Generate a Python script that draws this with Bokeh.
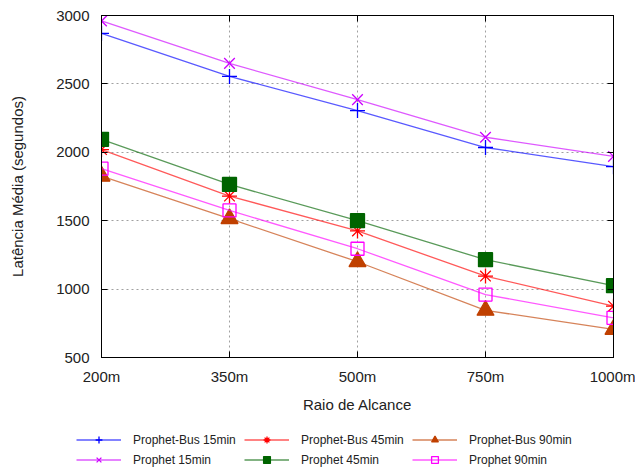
from bokeh.plotting import figure
from bokeh.layouts import column
from bokeh.models import (Range1d, FixedTicker, LinearAxis, Legend, LegendItem,
                          CustomJSTickFormatter)
from bokeh.embed import file_html
from bokeh.resources import INLINE

categories = ["200m", "350m", "500m", "750m", "1000m"]
y_ticks = [500, 1000, 1500, 2000, 2500, 3000]

bus_15 = [2870, 2555, 2305, 2035, 1895]
bus_45 = [2020, 1680, 1425, 1095, 875]
bus_90 = [1825, 1515, 1200, 845, 705]
prophet_15 = [2960, 2650, 2385, 2110, 1970]
prophet_45 = [2095, 1765, 1500, 1215, 1025]
prophet_90 = [1880, 1575, 1295, 960, 790]

series = [
    ("Prophet-Bus 15min", bus_15, "#0000ff", "cross", 15, True),
    ("Prophet-Bus 45min", bus_45, "#ff0000", "asterisk", 15, True),
    ("Prophet-Bus 90min", bus_90, "#c04000", "triangle", 17, True),
    ("Prophet 15min", prophet_15, "#cc00ff", "x", 15, True),
    ("Prophet 45min", prophet_45, "#006400", "square", 14, True),
    ("Prophet 90min", prophet_90, "#ff00ff", "square", 13, False),
]

x_idx = list(range(len(categories)))
FONT = "Liberation Sans"
TXT = "#222222"

p = figure(frame_width=512, frame_height=342,
           x_range=Range1d(0, len(categories) - 1), y_range=Range1d(500, 3000),
           output_backend="svg", toolbar_location=None,
           min_border_left=101, min_border_right=22, min_border_top=15,
           min_border_bottom=68)

p.outline_line_color = "black"
p.outline_line_width = 1

for ax in p.xaxis:
    ax.ticker = FixedTicker(ticks=x_idx)
    ax.major_label_overrides = {i: c for i, c in enumerate(categories)}
    ax.axis_label = "Raio de Alcance"
    ax.axis_label_standoff = 8
    ax.major_label_standoff = 10
for ax in p.yaxis:
    ax.ticker = FixedTicker(ticks=y_ticks)
    ax.axis_label = "Latência Média (segundos)"
    ax.axis_label_standoff = 27
    ax.major_label_standoff = 12

for ax in p.axis:
    ax.major_tick_in = 6
    ax.major_tick_out = 0
    ax.minor_tick_line_color = None
    ax.axis_line_color = "black"
    ax.major_tick_line_color = "black"
    ax.major_label_text_font = FONT
    ax.major_label_text_font_size = "15px"
    ax.major_label_text_color = TXT
    ax.axis_label_text_font = FONT
    ax.axis_label_text_font_size = "15px"
    ax.axis_label_text_font_style = "normal"
    ax.axis_label_text_color = TXT

# mirrored ticks (gnuplot style)
empty = CustomJSTickFormatter(code="return ''")
right_ax = LinearAxis(ticker=FixedTicker(ticks=y_ticks), formatter=empty,
                      major_tick_in=6, major_tick_out=0,
                      minor_tick_line_color=None, major_label_standoff=0)
top_ax = LinearAxis(ticker=FixedTicker(ticks=x_idx), formatter=empty,
                    major_tick_in=6, major_tick_out=0,
                    minor_tick_line_color=None, major_label_standoff=0)
p.add_layout(right_ax, "right")
p.add_layout(top_ax, "above")

for g in p.grid:
    g.grid_line_color = "#a0a0a0"
    g.grid_line_dash = "2 3"
    g.grid_line_width = 1

# legend strip below the chart; its renderers carry the same series but
# sit outside its (tiny) y range, so only the legend is visible there
lg = figure(width=635, height=46, output_backend="svg", toolbar_location=None,
            x_axis_type=None, y_axis_type=None, min_border=0,
            x_range=Range1d(0, 1), y_range=Range1d(0, 1))
lg.frame_align = False
lg.outline_line_color = None

items = []
for name, vals, color, marker, size, filled in series:
    line_kw = dict(line_color=color, line_width=1.3, line_alpha=0.65)
    mark_kw = dict(marker=marker, size=size, line_color=color,
                   fill_color=color if filled else None, line_width=1.3)
    p.line(x_idx, vals, **line_kw)
    p.scatter(x_idx, vals, **mark_kw)
    rl = lg.line(x_idx, vals, **line_kw)
    rs = lg.scatter(x_idx, vals, **mark_kw)
    items.append(LegendItem(label=name, renderers=[rl, rs]))

legend = Legend(items=items, orientation="horizontal", ncols=3,
                location=(76, 3),
                glyph_width=45, glyph_height=17, label_height=14,
                label_width=108, label_standoff=12, spacing=3,
                padding=0, margin=0,
                label_text_font=FONT, label_text_font_size="12px",
                label_text_color=TXT,
                border_line_alpha=0, background_fill_alpha=0)
lg.add_layout(legend, "center")

open("out.html", "w").write(file_html(column(p, lg, spacing=0), INLINE))
